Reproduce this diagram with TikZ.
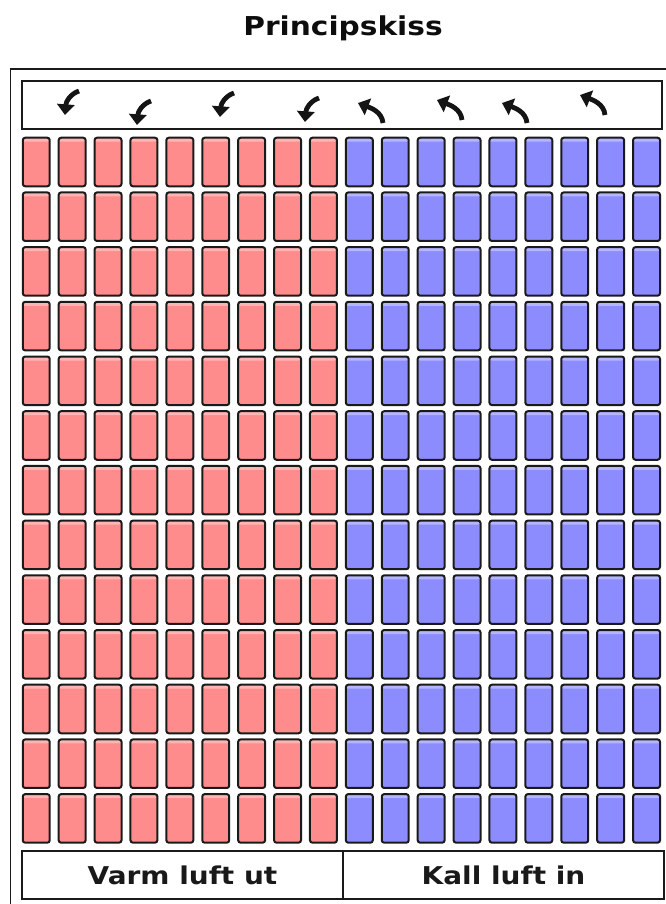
\documentclass[tikz,border=0pt]{standalone}
\usepackage{fontspec}
\setmainfont{DejaVu Sans}
\usetikzlibrary{arrows.meta}
\definecolor{warm}{HTML}{FF8C8C}
\definecolor{cold}{HTML}{8C8CFF}
\definecolor{edge}{HTML}{1A1A1A}
\begin{document}
\begin{tikzpicture}[x=0.75pt,y=-0.75pt,
  cell/.style={draw=edge, line width=1.5pt, rounded corners=1.8pt,
    minimum width=20.2pt, minimum height=36.4pt, inner sep=0pt,
    path picture={\fill[white,opacity=0.35]
      ([yshift=1pt]path picture bounding box.north west) rectangle
      ([yshift=-3pt]path picture bounding box.north east);}},
  warmcell/.style={cell, fill=warm},
  coldcell/.style={cell, fill=cold},
  frame/.style={draw=edge, line width=1.2pt},
  boxline/.style={draw=edge, line width=1.5pt},
  labelbox/.style={boxline, minimum width=240.75pt, minimum height=36pt, inner sep=0pt,
    font=\bfseries\fontsize{18.4}{20}\selectfont, text=black!90},
  flow/.style={line width=3.6pt, black!92, -{Triangle[length=8pt,width=13pt]}},
  downflow/.pic={\draw[flow] (14,-24) .. controls (5,-21) and (1,-13) .. (0,0);},
  upflow/.pic={\draw[flow] (25,20) .. controls (24,9) and (13,5) .. (0,0);}
]
\useasboundingbox (0,0) rectangle (666,904);
\clip (0,0) rectangle (666,904);
% title
\node[anchor=base, font=\bfseries\fontsize{19.5}{22}\selectfont, text=black!95] (title) at (343,35) {\scalebox{1.14}[1]{Principskiss}};
% outer frame
\draw[frame] (10.5,69) rectangle (700,950);
% top box with airflow arrows
\draw[boxline] (22,81) rectangle (662,129);
\pic at (65,115) {downflow};
\pic at (137,125) {downflow};
\pic at (220,117) {downflow};
\pic at (305,122) {downflow};
\pic at (358,103) {upflow};
\pic at (437,100) {upflow};
\pic at (502,103) {upflow};
\pic at (580,95) {upflow};
% cells
\foreach \j in {0,...,12}{
  \foreach \i in {0,...,8}{
    \node[warmcell] (w-\i-\j) at ({36.25+\i*35.9},{162+\j*54.7}) {};
  }
  \foreach \i in {9,...,17}{
    \node[coldcell] (c-\i-\j) at ({36.25+\i*35.9},{162+\j*54.7}) {};
  }
}
% bottom labels
\node[labelbox] (warmout) at (182.5,875) {\scalebox{1.14}[1]{Varm luft ut}};
\node[labelbox] (coldin) at (503.5,875) {\scalebox{1.14}[1]{Kall luft in}};
\end{tikzpicture}
\end{document}
